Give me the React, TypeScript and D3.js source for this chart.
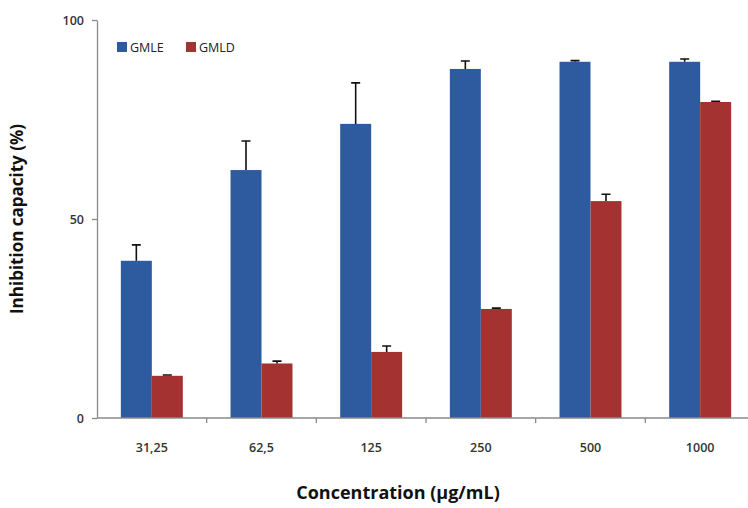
import React, { useEffect, useRef } from 'react';
import * as d3 from 'd3';

const categories = ['31,25', '62,5', '125', '250', '500', '1000'];
const seriesNames = ['GMLE', 'GMLD'];
const gmle = [39.5, 62.3, 73.9, 87.7, 89.5, 89.5];
const gmleErr = [4.0, 7.3, 10.3, 2.0, 0.3, 0.7];
const gmld = [10.6, 13.7, 16.6, 27.4, 54.5, 79.4];
const gmldErr = [0.2, 0.6, 1.5, 0.2, 1.7, 0.2];
const yTicks = [0, 50, 100];

const colors = ['#2E5B9F', '#A33230'];
const font = '"Open Sans", "DejaVu Sans", sans-serif';

const App = () => {
  const ref = useRef<SVGSVGElement>(null);

  useEffect(() => {
    const svg = d3.select(ref.current);
    svg.selectAll('*').remove();

    const left = 97, right = 755, top = 20, bottom = 418;

    // scales
    const x0 = d3.scaleBand().domain(categories).range([left, right])
      .paddingInner(0.435).paddingOuter(0.2175);
    const x1 = d3.scaleBand().domain(seriesNames).range([0, x0.bandwidth()]);
    const y = d3.scaleLinear().domain([0, 100]).range([bottom, top]);

    const rows = categories.map((c, i) => ({
      cat: c,
      vals: [
        { name: 'GMLE', v: gmle[i], e: gmleErr[i] },
        { name: 'GMLD', v: gmld[i], e: gmldErr[i] },
      ],
    }));

    // bars
    const g = svg.append('g');
    const groups = g.selectAll('g.grp').data(rows).enter().append('g')
      .attr('transform', d => 'translate(' + x0(d.cat) + ',0)');

    groups.selectAll('rect').data(d => d.vals).enter().append('rect')
      .attr('x', d => x1(d.name)!)
      .attr('y', d => y(d.v))
      .attr('width', x1.bandwidth())
      .attr('height', d => y(0) - y(d.v))
      .attr('fill', (d, i) => colors[i]);

    // error bars (upper only)
    groups.selectAll('path.err').data(d => d.vals).enter().append('path')
      .attr('class', 'err')
      .attr('d', d => {
        const cx = x1(d.name)! + x1.bandwidth() / 2;
        const y1 = y(d.v), y2 = y(d.v + d.e);
        return `M${cx},${y1}V${y2}M${cx - 4.5},${y2}H${cx + 4.5}`;
      })
      .attr('stroke', '#111')
      .attr('stroke-width', 1.6)
      .attr('fill', 'none');

    // y axis
    const yAxis = svg.append('g')
      .attr('transform', 'translate(' + left + ',0)')
      .call(d3.axisLeft(y).tickValues(yTicks).tickSize(5).tickPadding(8).tickSizeOuter(0));
    yAxis.select('.domain').attr('stroke', '#8a8a8a').attr('stroke-width', 1.3);
    yAxis.selectAll('.tick line').attr('stroke', '#8a8a8a').attr('stroke-width', 1.3);
    yAxis.selectAll('.tick text')
      .attr('font-family', font).attr('font-size', 12.5).attr('font-weight', 600).attr('fill', '#333');

    // x axis: ticks at band boundaries
    const xAxis = svg.append('g')
      .attr('transform', 'translate(0,' + bottom + ')');
    xAxis.append('line').attr('x1', left).attr('x2', right).attr('stroke', '#8a8a8a').attr('stroke-width', 1.3);
    const step = x0.step();
    xAxis.selectAll('line.tk').data(categories.slice(1)).enter().append('line')
      .attr('class', 'tk')
      .attr('x1', d => x0(d)! - (step - x0.bandwidth()) / 2)
      .attr('x2', d => x0(d)! - (step - x0.bandwidth()) / 2)
      .attr('y1', 0).attr('y2', 5)
      .attr('stroke', '#8a8a8a').attr('stroke-width', 1.3);
    xAxis.selectAll('text').data(categories).enter().append('text')
      .attr('x', d => x0(d)! + x0.bandwidth() / 2)
      .attr('y', 34)
      .attr('text-anchor', 'middle')
      .attr('font-family', font).attr('font-size', 12.5).attr('font-weight', 600).attr('fill', '#333')
      .text(d => d);

    // axis titles
    svg.append('text')
      .attr('transform', 'translate(23,219) rotate(-90)')
      .attr('text-anchor', 'middle')
      .attr('font-family', font).attr('font-size', 17).attr('font-weight', 'bold').attr('fill', '#111')
      .text('Inhibition capacity (%)');
    svg.append('text')
      .attr('x', 398).attr('y', 499)
      .attr('text-anchor', 'middle')
      .attr('font-family', font).attr('font-size', 18).attr('font-weight', 'bold').attr('fill', '#111')
      .text('Concentration (µg/mL)');

    // legend
    const legX = [117, 186];
    const leg = svg.append('g');
    seriesNames.forEach((n, i) => {
      leg.append('rect').attr('x', legX[i]).attr('y', 42).attr('width', 10).attr('height', 10).attr('fill', colors[i]);
      leg.append('text').attr('x', legX[i] + 13).attr('y', 52)
        .attr('font-family', font).attr('font-size', 12.5).attr('font-weight', 'normal').attr('fill', '#222')
        .text(n);
    });
  }, []);

  return (
    <svg ref={ref} width={748} height={508}
      style={{ position: 'absolute', left: 0, top: 0, background: '#fff' }} />
  );
};

export default App;
